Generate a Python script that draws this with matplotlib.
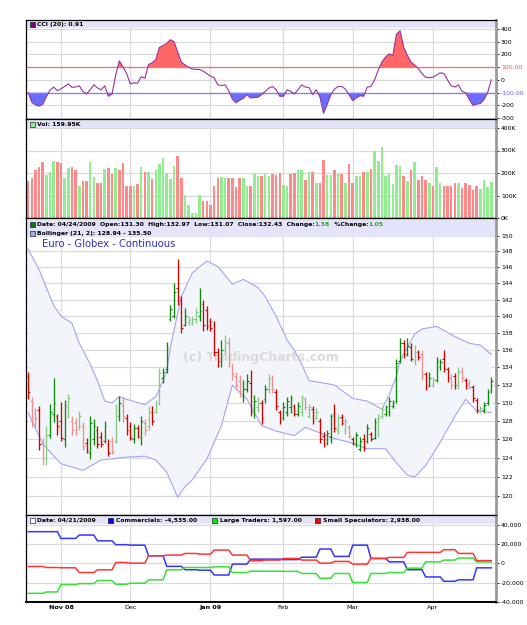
import numpy as np
import matplotlib.pyplot as plt
from matplotlib.patches import Rectangle
from matplotlib.ticker import FixedLocator, NullLocator

W, H = 527, 625

# daily bars, index 0 = 2008-10-20 ... 127 = 2009-04-24
opens = [133.0, 130.2, 128.8, 129.2, 125.6, 124.0, 126.5, 128.8, 128.5, 128.0,
         126.0, 129.5, 128.0, 127.8, 127.5, 127.5, 125.6, 124.5, 126.0, 127.0,
         126.3, 125.8, 125.5, 125.8, 125.8, 128.5, 129.8, 128.3, 127.5, 126.0,
         127.2, 126.3, 127.8, 127.5, 129.0, 129.0, 130.0, 132.8, 133.8, 139.7,
         140.1, 143.5, 142.0, 139.0, 139.3, 139.2, 139.7, 140.0, 141.5, 140.8,
         139.5, 139.0, 135.8, 134.8, 136.0, 136.8, 134.2, 133.0, 132.5, 130.8,
         131.5, 132.2, 129.0, 129.5, 130.0, 130.4, 131.5, 132.8, 131.2, 129.0,
         128.3, 129.0, 129.5, 129.6, 128.8, 129.0, 130.4, 128.6, 129.3, 128.3,
         128.0, 126.4, 125.6, 126.3, 128.8, 127.0, 128.4, 127.0, 127.3, 126.0,
         125.5, 125.0, 126.0, 125.8, 126.6, 126.2, 127.0, 128.5, 128.8, 129.0,
         129.6, 130.2, 134.8, 136.8, 135.6, 136.4, 134.8, 135.8, 135.5, 133.2,
         132.0, 132.0, 132.6, 134.0, 135.0, 133.8, 132.8, 133.0, 132.0, 133.6,
         132.6, 132.2, 131.8, 130.3, 129.0, 129.2, 130.0, 131.30]
highs = [133.5, 130.7, 129.4, 129.7, 126.1, 127.4, 129.9, 132.8, 128.8, 130.1,
         130.3, 131.0, 128.5, 128.3, 129.1, 127.9, 126.1, 128.6, 128.2, 127.4,
         126.8, 128.0, 126.0, 126.3, 129.9, 130.8, 130.7, 128.8, 127.9, 127.7,
         127.6, 128.6, 128.2, 129.6, 129.6, 130.3, 133.9, 133.9, 137.0, 141.4,
         144.0, 147.0, 142.4, 141.0, 140.0, 140.0, 141.0, 143.4, 142.0, 141.2,
         139.8, 139.4, 136.3, 137.2, 137.8, 137.4, 134.5, 133.5, 133.1, 132.6,
         133.3, 133.7, 130.9, 130.7, 130.3, 132.0, 133.3, 133.1, 131.5, 129.2,
         130.1, 130.7, 130.9, 129.9, 130.1, 130.9, 130.7, 129.9, 129.6, 129.4,
         128.3, 126.8, 127.0, 128.8, 129.9, 128.8, 128.8, 128.3, 127.6, 126.3,
         126.8, 126.3, 126.6, 127.7, 126.8, 128.3, 128.8, 129.6, 129.8, 130.7,
         130.3, 135.0, 137.4, 137.2, 137.4, 136.8, 136.6, 136.0, 136.0, 133.5,
         133.5, 132.9, 135.2, 135.0, 136.0, 134.1, 133.2, 133.4, 134.0, 134.0,
         132.8, 132.6, 132.0, 130.5, 129.6, 130.1, 131.6, 132.97]
lows = [130.4, 127.3, 127.2, 124.9, 123.3, 123.3, 126.1, 127.9, 126.5, 125.8,
        125.2, 128.3, 126.5, 126.5, 127.0, 124.9, 124.5, 123.9, 125.4, 125.1,
        125.2, 125.6, 124.2, 124.4, 125.6, 128.0, 127.9, 126.5, 125.9, 125.6,
        126.1, 125.4, 126.5, 127.0, 127.6, 128.9, 129.8, 132.2, 133.4, 139.4,
        139.8, 141.4, 138.0, 138.8, 139.0, 139.0, 139.2, 139.4, 138.2, 138.4,
        138.2, 135.3, 134.1, 134.1, 135.6, 134.1, 132.6, 131.4, 130.7, 130.1,
        131.2, 128.5, 128.3, 129.0, 127.7, 130.0, 131.1, 131.1, 129.2, 127.7,
        128.1, 128.5, 128.9, 128.5, 128.5, 128.6, 129.2, 128.3, 127.7, 128.1,
        125.6, 125.2, 125.4, 125.6, 126.8, 126.6, 127.6, 126.6, 126.1, 125.4,
        125.2, 124.7, 124.7, 125.6, 125.8, 126.0, 126.3, 128.3, 128.5, 128.5,
        129.4, 130.0, 134.5, 135.1, 135.3, 134.7, 134.3, 134.9, 132.6, 131.4,
        131.8, 131.8, 132.4, 133.7, 133.5, 132.4, 131.6, 131.6, 131.6, 132.4,
        131.6, 131.6, 130.1, 128.9, 128.9, 128.9, 129.8, 131.07]
closes = [131.2, 128.6, 128.3, 125.5, 124.0, 126.5, 129.0, 130.0, 127.5, 126.2,
          129.8, 130.6, 127.0, 127.0, 128.5, 125.3, 124.8, 127.8, 127.5, 125.5,
          125.5, 127.4, 124.5, 124.6, 129.2, 130.0, 128.5, 127.0, 126.2, 127.2,
          126.4, 128.0, 127.0, 129.0, 128.0, 130.0, 133.4, 133.5, 136.2, 140.9,
          143.0, 142.3, 138.6, 140.0, 139.6, 139.7, 140.5, 140.6, 139.0, 138.8,
          138.6, 135.8, 134.8, 136.0, 137.0, 134.6, 133.2, 132.0, 131.3, 131.5,
          132.5, 129.0, 130.2, 130.0, 128.3, 131.5, 132.8, 131.5, 129.6, 128.0,
          129.5, 130.2, 130.5, 128.8, 129.6, 130.5, 129.5, 129.5, 128.0, 129.0,
          126.0, 125.5, 126.7, 128.5, 127.2, 128.3, 127.8, 128.0, 126.4, 125.6,
          126.5, 125.8, 125.1, 127.2, 126.0, 127.9, 128.3, 129.3, 129.5, 130.2,
          130.0, 134.5, 136.8, 135.6, 136.5, 135.0, 135.8, 135.2, 133.2, 131.8,
          132.8, 132.6, 134.8, 134.6, 133.9, 132.8, 132.0, 132.0, 133.5, 132.8,
          132.0, 131.8, 130.5, 129.2, 129.4, 129.8, 131.05, 132.43]
# bars drawn in the pale tone
light_bars = [1, 2, 4, 5, 11, 12, 13, 14, 15, 23, 24, 26, 32, 33, 35, 36, 44, 45, 46,
              54, 55, 56, 57, 58, 63, 66, 67, 75, 76, 77, 79, 85, 87, 88, 96, 97,
              106, 108, 111, 116, 118, 119, 121, 124]

volume_k = [166, 178, 212, 228, 247, 193, 206, 255, 250, 244,
            176, 222, 227, 215, 142, 166, 166, 250, 184, 157,
            157, 219, 221, 196, 224, 213, 244, 144, 144, 144,
            151, 225, 203, 203, 175, 215, 241, 268, 199, 175,
            233, 274, 179, 104, 59, 21, 21, 104, 74, 74,
            59, 144, 178, 181, 179, 179, 178, 139, 179, 179,
            144, 144, 197, 187, 187, 197, 187, 197, 193, 201,
            147, 144, 197, 201, 212, 212, 169, 203, 203, 157,
            157, 256, 193, 193, 212, 196, 197, 157, 239, 157,
            188, 188, 206, 206, 218, 300, 255, 314, 188, 196,
            151, 236, 230, 188, 166, 213, 250, 170, 188, 170,
            157, 142, 228, 157, 142, 142, 142, 157, 157, 135,
            157, 147, 126, 142, 130, 170, 140, 159.95]
volume_dir = ("rrrrrgggrr" "ggrrgrrggr" "rgrrgrrrrg" "rgrgrggggg" "grrgggggrr"
              "rrrggrrrrg" "grggrggrrr" "ggrrggrgrg" "rrggrgrgrr" "ggrgrggggg"
              "gggrgrgrrr" "grggrrrrgr" "rrrrgggg")

cci = [-100, -175, -195, -205, -190, -130, -80, -56, -84, -70,
       -50, -31, -58, -55, -46, -88, -110, -77, -38, -62,
       -77, -46, -128, -110, 38, 150, 103, 51, -31, -22,
       -26, 26, 13, 121, 135, 160, 256, 269, 287, 315,
       300, 220, 140, 118, 100, 86, 83, 82, 69, 50,
       30, 18, -38, -44, -38, -85, -150, -180, -159, -145,
       -115, -141, -138, -136, -115, -90, -64, -51, -77, -128,
       -128, -77, -90, -110, -77, -38, -56, -59, -115, -77,
       -133, -262, -192, -115, -72, -51, -51, -72, -115, -162,
       -141, -123, -128, -56, -51, 0, 77, 141, 179, 205,
       192, 359, 385, 256, 192, 141, 115, 90, 50, 21,
       18, 21, 38, 56, 51, 0, -46, -56, -38, -90,
       -100, -154, -200, -190, -185, -154, -100, 0.91]

# Bollinger (21, 2) band
upper_idx = [0, 3, 7, 9, 12, 14, 17, 19, 21, 23, 25, 27, 32, 35, 37, 38, 39, 42, 45,
             49, 52, 56, 59, 63, 65, 68, 71, 73, 75, 77, 80, 84, 87, 89, 93, 97, 99,
             101, 102, 106, 108, 112, 117, 121, 124, 127]
upper_val = [148.3, 145.7, 141.3, 140.0, 139.2, 136.8, 134.4, 132.5, 130.2, 130.0,
             130.7, 130.4, 129.8, 130.7, 132.5, 133.6, 136.4, 142.4, 145.3, 146.8,
             146.1, 143.9, 144.5, 143.5, 142.4, 140.0, 137.2, 136.0, 134.4, 132.5,
             132.3, 132.0, 131.1, 130.5, 130.2, 129.3, 130.9, 133.0, 134.8, 137.9,
             138.5, 138.8, 137.6, 136.8, 136.6, 135.5]
lower_idx = [0, 4, 9, 15, 20, 27, 32, 35, 38, 41, 43, 45, 49, 53, 56, 60, 64, 68,
             73, 76, 80, 84, 88, 93, 98, 101, 104, 106, 109, 113, 117, 120, 123, 127]
lower_val = [128.9, 125.5, 123.4, 122.7, 123.8, 124.1, 124.2, 123.8, 122.5, 119.9,
             121.0, 121.7, 123.9, 127.5, 132.0, 130.4, 127.5, 126.9, 126.4, 127.3,
             126.7, 126.1, 125.7, 125.0, 125.0, 123.5, 122.2, 122.0, 123.2, 125.7,
             128.5, 130.4, 129.1, 128.94]

month_idx = [9, 28, 50, 70, 89, 111]
month_labels = ["Nov 08", "Dec", "Jan 09", "Feb", "Mar", "Apr"]

# weekly COT net positions, first bar index of each week
week_starts = [0, 5, 9, 14, 19, 24, 28, 33, 38, 43, 47, 51, 56, 61, 65, 70, 75, 80,
               84, 89, 94, 99, 104, 109, 114, 118, 123]
commercials = [33000, 33000, 26000, 29500, 23500, 19500, 19000, 8000, -3000, -6500,
               -7000, -12000, -700, 4500, 4500, 4000, 6500, 15000, 7300, 19000,
               5200, 1700, -6500, -14000, -18500, -17000, -4535]
large_traders = [-31000, -29600, -21900, -20900, -17700, -21600, -20500, -17000, -6600,
                 -4200, -4200, -3500, -9400, -8000, -8000, -8200, -10400, -15300,
                 -10400, -19800, -10400, -9400, -4900, 1700, 3500, 5600, 1597]
small_specs = [-3100, -4200, -4500, -9400, -6600, 1000, 300, 8000, 8700, 10400, 9700,
               13900, 8700, 2800, 3500, 5200, 3500, 300, 2100, -700, 5200, 6300,
               11500, 11500, 14300, 10400, 2938]

n = len(closes)
x = np.arange(n)
FS = 4.4
plt.rcParams['font.family'] = 'DejaVu Sans'

fig = plt.figure(figsize=(W / 100, H / 100), dpi=100)


def panel(top, bottom):
    ax = fig.add_axes([26 / W, 1 - bottom / H, 470 / W, (bottom - top) / H])
    ax.set_xlim(-0.6, 128.3)
    ax.set_xticks(month_idx)
    ax.tick_params(axis='x', length=0, labelbottom=False)
    ax.yaxis.tick_right()
    ax.tick_params(axis='y', length=2.5, width=0.6, pad=1, labelsize=FS)
    ax.grid(True, color='#dadada', lw=0.9)
    ax.set_axisbelow(True)
    for s in ('left', 'top', 'bottom'):
        ax.spines[s].set_color('black')
        ax.spines[s].set_linewidth(0.9)
    ax.spines['right'].set_color('#9a9a9a')
    ax.spines['right'].set_linewidth(2)
    return ax


def band(ax, top, bottom, h):
    f = h / (bottom - top)
    ax.add_patch(Rectangle((0, 1 - f), 1, f, transform=ax.transAxes,
                           fc='#e4e4f8', ec='none', zorder=1.6))


def square(px, py, fc):
    fig.add_artist(Rectangle((px / W, 1 - (py + 2.5) / H), 5 / W, 5 / H,
                             transform=fig.transFigure, fc=fc, ec='black', lw=0.4, zorder=5))


def label(px, py, s, color='black'):
    return fig.text(px / W, 1 - py / H, s, fontsize=FS, weight='bold', color=color,
                    va='center', ha='left', zorder=6)


# ---- CCI ----
ax_cci = panel(20, 119)
cci_a = np.array(cci)
ax_cci.fill_between(x, cci_a, 100, where=cci_a > 100, interpolate=True, color='#ff6666', lw=0)
ax_cci.fill_between(x, cci_a, -100, where=cci_a < -100, interpolate=True, color='#6b6bff', lw=0)
ax_cci.axhline(100, color='#ff6f6f', lw=0.9)
ax_cci.axhline(-100, color='#8080ff', lw=0.9)
ax_cci.plot(x, cci_a, color='#993399', lw=0.8)
ax_cci.set_ylim(-306, 470)
cci_ticks = [-300, -200, -100, 0, 100, 200, 300, 400]
ax_cci.yaxis.set_major_locator(FixedLocator(cci_ticks))
ax_cci.set_yticklabels(["-300", "-200", "-100.00", "0", "100.00", "200", "300", "400"])
for t in ax_cci.get_yticklabels():
    if t.get_text() == "100.00":
        t.set_color('#ff5050')
    elif t.get_text() == "-100.00":
        t.set_color('#6060ff')
band(ax_cci, 20, 119, 8)
square(30, 24.3, '#800080')
label(37, 24.3, "CCI (20): 0.91")

# ---- Volume ----
ax_vol = panel(119, 218)
vcols = ['#90ee90' if d == 'g' else '#ff8888' for d in volume_dir]
ax_vol.bar(x, volume_k, width=0.7, color=vcols, zorder=2)
ax_vol.set_ylim(0, 440)
ax_vol.yaxis.set_major_locator(FixedLocator([0, 100, 200, 300, 400]))
ax_vol.set_yticklabels(["0K", "100K", "200K", "300K", "400K"])
band(ax_vol, 119, 218, 9)
square(30, 124.3, '#90ee90')
label(37, 124.3, "Vol: 159.95K")

# ---- Price ----
ax_px = panel(218, 515)
ax_px.set_yscale('log')
ax_px.set_ylim(118.1, 152.3)
ax_px.yaxis.set_major_locator(FixedLocator(list(range(118, 151, 2))))
ax_px.yaxis.set_minor_locator(NullLocator())
ax_px.set_yticklabels([str(v) for v in range(118, 151, 2)])
ax_px.fill(np.r_[upper_idx, lower_idx[::-1]], np.r_[upper_val, lower_val[::-1]],
           color='#f2f5f9', lw=0, zorder=0.8)
ax_px.plot(upper_idx, upper_val, color='#a4a4f4', lw=0.8, zorder=1.2)
ax_px.plot(lower_idx, lower_val, color='#a4a4f4', lw=0.8, zorder=1.2)
ax_px.text(63.8, 135.2, "(c) TradingCharts.com", fontsize=9, weight='bold', color='#dadada',
           ha='center', va='center', zorder=0.9)
o, c = np.array(opens), np.array(closes)
pcols = []
for i in range(n):
    up = c[i] >= o[i]
    if i in light_bars:
        pcols.append('#86c986' if up else '#e99191')
    else:
        pcols.append('#0a8a0a' if up else '#d40000')
ax_px.vlines(x, lows, highs, colors=pcols, lw=0.95, zorder=3)
ax_px.hlines(o, x - 0.45, x, colors=pcols, lw=0.8, zorder=3)
ax_px.hlines(c, x, x + 0.45, colors=pcols, lw=0.8, zorder=3)
band(ax_px, 218, 515, 19)
square(30, 224.3, '#0a7a0a')
t1 = label(37, 224.3, "Date: 04/24/2009  Open:131.30  High:132.97  Low:131.07  Close:132.43  Change:")
t2 = ax_px.annotate("1.38", xy=(1, 0), xycoords=t1, va='bottom', ha='left', fontsize=FS,
                    weight='bold', color='#22aa22', zorder=6)
t3 = ax_px.annotate("  %Change:", xy=(1, 0), xycoords=t2, va='bottom', ha='left',
                    fontsize=FS, weight='bold', zorder=6)
ax_px.annotate("1.05", xy=(1, 0), xycoords=t3, va='bottom', ha='left', fontsize=FS,
               weight='bold', color='#22aa22', zorder=6)
square(30, 233.3, '#a8a8e8')
label(37, 233.3, "Bollinger (21, 2): 128.94 - 135.50")
fig.text(42 / W, 1 - 244.3 / H, "Euro - Globex - Continuous", fontsize=7.2,
         color='#3030c0', va='center', ha='left', zorder=6)

# ---- COT ----
ax_cot = panel(515, 602)
lengths = np.diff(week_starts + [n])
for vals, col in ((commercials, '#3535ff'), (large_traders, '#3ae03a'),
                  (small_specs, '#ff3535')):
    ax_cot.plot(x, np.repeat(vals, lengths), color=col, lw=1.1, zorder=3)
ax_cot.set_ylim(-40000, 50300)
cot_ticks = [-40000, -20000, 0, 20000, 40000]
ax_cot.yaxis.set_major_locator(FixedLocator(cot_ticks))
ax_cot.set_yticklabels([f"{v:,}" for v in cot_ticks])
ax_cot.tick_params(axis='x', labelbottom=True, pad=2, labelsize=FS + 0.2)
ax_cot.set_xticklabels(month_labels)
for t in ax_cot.get_xticklabels():
    if "0" in t.get_text():
        t.set_fontweight('bold')
ax_cot.spines['bottom'].set_linewidth(1.4)
band(ax_cot, 515, 602, 9)
square(30, 520.5, 'white')
label(37, 520.5, "Date: 04/21/2009")
square(108, 520.5, '#0000ff')
label(116, 520.5, "Commercials: -4,535.00")
square(212, 520.5, '#00ee00')
label(220, 520.5, "Large Traders: 1,597.00")
square(315, 520.5, '#ff0000')
label(323, 520.5, "Small Speculators: 2,938.00")

fig.savefig("out.png", dpi=100)
